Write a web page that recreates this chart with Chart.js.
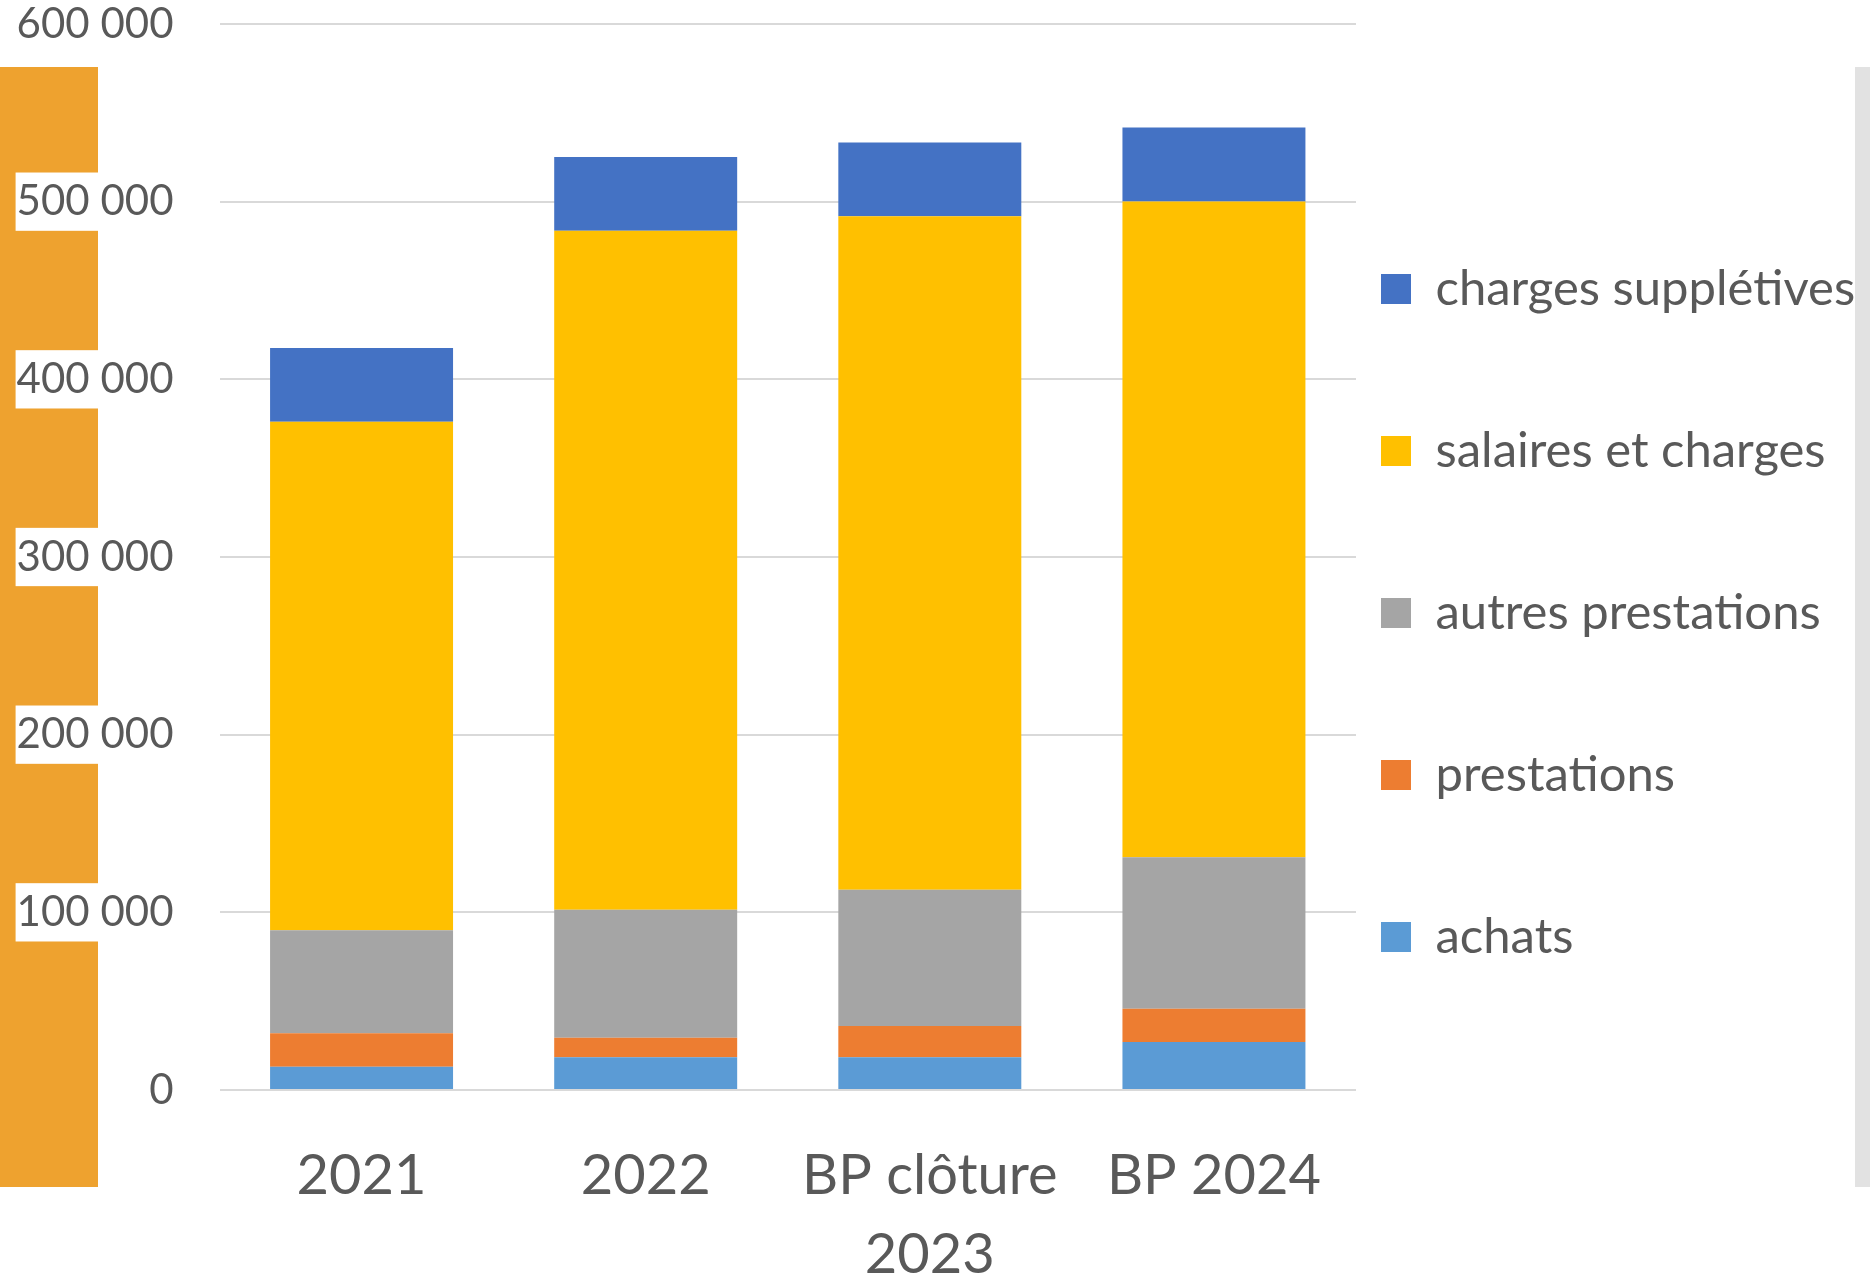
<!DOCTYPE html>
<html>
<head>
<meta charset="utf-8">
<script src="https://cdn.jsdelivr.net/npm/chart.js@4"></script>
<style>
    body { margin: 0; background: #fff; }
    canvas { display: block; }
</style>
</head>
<body>
<canvas id="chart" width="1870" height="1283"></canvas>
<script>
// Categories (years)
const categories = ['2021', '2022', ['BP clôture', '2023'], 'BP 2024'];

// Series values (euros)
const achats = [13100, 18400, 18400, 27000];
const prestations = [18800, 11000, 17600, 18800];
const autresPrestations = [58000, 72100, 76700, 85200];
const salairesEtCharges = [286200, 382100, 379100, 369100];
const chargesSuppletives = [41500, 41600, 41500, 41700];

// Y axis ticks
const yTicks = [0, 100000, 200000, 300000, 400000, 500000, 600000];

const textColor = '#595959';
const gridColor = '#D9D9D9';

// Format 600000 -> "600 000"
function formatNumber(v) {
    return String(v).replace(/\B(?=(\d{3})+(?!\d))/g, ' ');
}

// Side decorations + legend placement
const framePlugin = {
    id: 'frame',
    beforeDraw(chart) {
        const ctx = chart.ctx;
        ctx.save();
        ctx.fillStyle = '#fff';
        ctx.fillRect(0, 0, chart.width, chart.height);
        ctx.fillStyle = '#EEA22F';
        ctx.fillRect(0, 67, 98, 1120);
        ctx.fillStyle = '#E2E2E2';
        ctx.fillRect(1855, 67, 15, 1120);
        ctx.restore();

        // move legend box so items sit where they do in the original
        const legend = chart.legend;
        legend.left = 1268;
        legend.right = 1870;
        legend.top = 0;
        legend.bottom = 1226;
    }
};

const ctx = document.getElementById('chart').getContext('2d');
const chart = new Chart(ctx, {
    type: 'bar',
    data: {
        labels: categories,
        datasets: [
            { label: 'achats', data: achats, backgroundColor: '#5B9BD5' },
            { label: 'prestations', data: prestations, backgroundColor: '#ED7D31' },
            { label: 'autres prestations', data: autresPrestations, backgroundColor: '#A5A5A5' },
            { label: 'salaires et charges', data: salairesEtCharges, backgroundColor: '#FFC000' },
            { label: 'charges supplétives', data: chargesSuppletives, backgroundColor: '#4472C4' }
        ]
    },
    options: {
        responsive: false,
        devicePixelRatio: 1,
        animation: false,
        layout: {
            padding: { top: 24, right: 114, bottom: 0, left: 0 }
        },
        datasets: {
            bar: {
                borderWidth: 0,
                barPercentage: 0.644,
                categoryPercentage: 1
            }
        },
        scales: {
            x: {
                stacked: true,
                grid: { display: false },
                border: { display: false },
                ticks: {
                    color: textColor,
                    font: { family: 'Lato', size: 56, lineHeight: 1.42 },
                    padding: 38,
                    maxRotation: 0,
                    autoSkip: false
                },
                afterFit(scale) {
                    scale.height = 193;
                }
            },
            y: {
                stacked: true,
                min: yTicks[0],
                max: yTicks[yTicks.length - 1],
                afterBuildTicks(scale) {
                    scale.ticks = yTicks.map(v => ({ value: v }));
                },
                grid: {
                    color: gridColor,
                    lineWidth: 2,
                    drawTicks: false
                },
                border: { display: false },
                ticks: {
                    color: textColor,
                    font: { family: 'Lato', size: 42, lineHeight: 1.15 },
                    padding: 46,
                    showLabelBackdrop: true,
                    backdropColor: '#fff',
                    backdropPadding: { top: 5, bottom: 5, left: 1, right: 1 },
                    callback: v => formatNumber(v)
                },
                afterFit(scale) {
                    scale.width = 219.5;
                    scale.paddingTop = 0;
                    scale.paddingBottom = 0;
                }
            }
        },
        plugins: {
            legend: {
                position: 'right',
                reverse: true,
                maxWidth: 400,
                labels: {
                    color: textColor,
                    font: { family: 'Lato', size: 49 },
                    boxWidth: 30,
                    boxHeight: 30,
                    padding: 113
                }
            },
            tooltip: { enabled: false }
        }
    },
    plugins: [framePlugin]
});
</script>
</body>
</html>
